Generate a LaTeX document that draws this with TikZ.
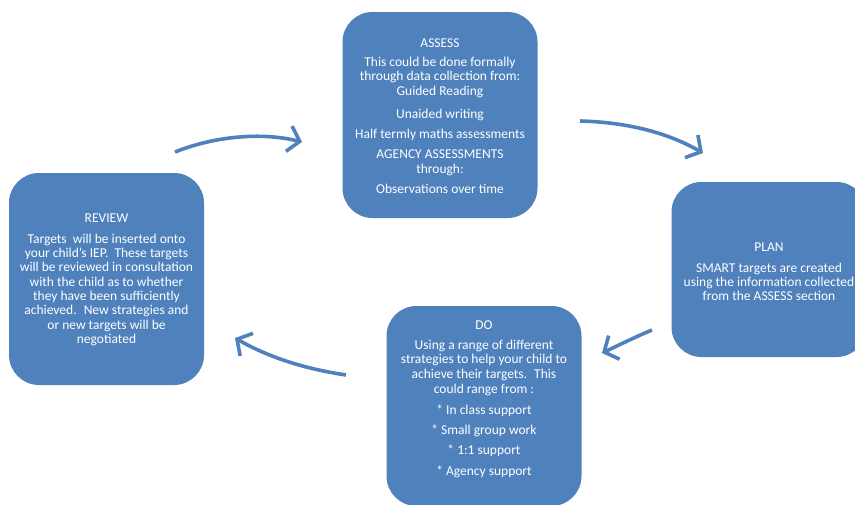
\documentclass[tikz,border=0pt]{standalone}
\usepackage{fontspec}
\setmainfont{Carlito}
\usetikzlibrary{arrows.meta}
\definecolor{boxblue}{HTML}{4F81BD}
\tikzset{
  cyclebox/.style={draw=none, fill=boxblue, rounded corners=30pt, minimum width=195pt, inner sep=0pt},
  boxtext/.style={text=white, align=center, inner sep=0pt, font=\fontsize{13.5}{14.3}\selectfont},
  cyclearrow/.style={draw=boxblue, line width=3.6pt, -{Straight Barb[length=11pt,width=26pt]}},
}
\begin{document}
\begin{tikzpicture}[x=1pt,y=-1pt]
\clip (0,0) rectangle (855,504);
\fill[white] (0,0) rectangle (855,504);
% boxes
\node[cyclebox, minimum height=206pt] (assess) at (440,115) {};
\node[cyclebox, minimum height=212pt] (review) at (106.5,279) {};
\node[cyclebox, minimum height=175pt] (plan) at (769,269.5) {};
\node[cyclebox, minimum height=200pt] (do) at (484,406) {};
% texts
\node[boxtext] (assess-t) at (440,116) {ASSESS\\[5pt]
This could be done formally\\
through data collection from:\\
Guided Reading\\[9pt]
Unaided writing\\[6pt]
Half termly maths assessments\\[6pt]
AGENCY ASSESSMENTS\\
through:\\[6pt]
Observations over time};
\node[boxtext] (review-t) at (106.5,280) {REVIEW\\[6pt]
Targets \ will be inserted onto\\
your child's IEP. \ These targets\\
will be reviewed in consultation\\
with the child as to whether\\
they have been sufficiently\\
achieved. \ New strategies and\\
or new targets will be\\
negotiated};
\node[boxtext] (plan-t) at (769,272) {PLAN\\[6pt]
SMART targets are created\\
using the information collected\\
from the ASSESS section};
\node[boxtext] (do-t) at (484,399) {DO\\[6pt]
Using a range of different\\
strategies to help your child to\\
achieve their targets. \ This\\[1.5pt]
could range from :\\[6pt]
* In class support\\[6pt]
* Small group work\\[6pt]
* 1:1 support\\[6pt]
* Agency support};
% arrow ends
\coordinate (a1s) at (175,152);
\coordinate (a1e) at (302,142);
\coordinate (a2s) at (580,121);
\coordinate (a2e) at (703,153);
\coordinate (a3s) at (652,330);
\coordinate (a3e) at (602,353);
\coordinate (a4s) at (346,375);
\coordinate (a4e) at (235,338);
% arrows
\draw[cyclearrow] (a1s) .. controls (215,136) and (262,132) .. (a1e);
\draw[cyclearrow] (a2s) .. controls (620,122) and (663,130) .. (a2e);
\draw[cyclearrow] (a3s) .. controls (635,337) and (615,347) .. (a3e);
\draw[cyclearrow] (a4s) .. controls (306,369) and (270,358) .. (a4e);
\end{tikzpicture}
\end{document}
